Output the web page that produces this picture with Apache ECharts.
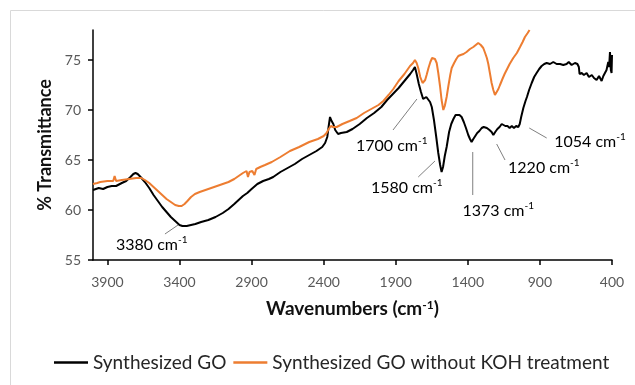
<!DOCTYPE html>
<html>
<head>
<meta charset="utf-8">
<script src="https://cdn.jsdelivr.net/npm/echarts@6/dist/echarts.min.js"></script>
<style>
html, body { margin: 0; padding: 0; background: #fff; }
#chart { width: 635px; height: 385px; }
</style>
</head>
<body>
<div id="chart"></div>
<script>
// Synthesized GO (black)
var goWn = [4000, 3960, 3930, 3900, 3870, 3840, 3800, 3770, 3740, 3720, 3705, 3690, 3670, 3640, 3610, 3580,
    3550, 3520, 3490, 3460, 3430, 3400, 3380, 3350, 3320, 3290, 3250, 3200, 3150, 3100, 3060, 3020, 2990,
    2960, 2930, 2900, 2860, 2820, 2780, 2750, 2700, 2650, 2600, 2550, 2500, 2450, 2410, 2390, 2375, 2365,
    2356, 2345, 2333, 2320, 2300, 2280, 2240, 2200, 2150, 2100, 2050, 2000, 1960, 1920, 1880, 1840, 1800,
    1780, 1767, 1755, 1740, 1725, 1710, 1700, 1688, 1676, 1662, 1650, 1635, 1620, 1605, 1592, 1582, 1572,
    1560, 1547, 1530, 1515, 1500, 1485, 1473, 1458, 1443, 1428, 1413, 1397, 1385, 1374, 1362, 1350, 1335,
    1320, 1304, 1290, 1281, 1268, 1250, 1235, 1223, 1210, 1195, 1180, 1165, 1154, 1140, 1125, 1110, 1095,
    1080, 1065, 1050, 1040, 1030, 1015, 1000, 990, 975, 957, 940, 923, 905, 888, 870, 853, 830, 807, 784,
    760, 738, 715, 700, 680, 657, 640, 630, 625, 610, 595, 576, 560, 540, 525, 507, 490, 472, 460, 449,
    438, 426, 420, 414, 408, 403, 400];
var goT = [62.0, 62.2, 62.1, 62.3, 62.4, 62.4, 62.7, 62.9, 63.3, 63.6, 63.7, 63.6, 63.3, 62.8, 62.2, 61.5,
    60.9, 60.3, 59.8, 59.3, 58.9, 58.5, 58.4, 58.4, 58.5, 58.6, 58.8, 59.0, 59.3, 59.7, 60.1, 60.6, 61.0,
    61.4, 61.7, 62.1, 62.6, 62.9, 63.1, 63.3, 63.8, 64.2, 64.6, 65.1, 65.5, 65.9, 66.3, 66.7, 67.3, 68.4,
    69.3, 68.9, 68.6, 68.0, 67.6, 67.7, 67.8, 68.1, 68.6, 69.2, 69.7, 70.3, 71.0, 71.6, 72.2, 72.9, 73.6,
    74.0, 74.3, 73.6, 72.6, 71.8, 71.1, 70.9, 71.3, 71.3, 70.8, 70.3, 69.0, 67.4, 65.7, 64.5, 63.8, 64.3,
    65.4, 66.3, 67.8, 68.6, 69.1, 69.5, 69.6, 69.5, 69.3, 68.8, 68.2, 67.5, 67.1, 66.8, 67.1, 67.3, 67.7,
    67.9, 68.2, 68.3, 68.4, 68.2, 68.0, 67.8, 67.5, 67.8, 68.1, 68.3, 68.6, 68.7, 68.4, 68.4, 68.2, 68.4,
    68.2, 68.4, 68.3, 68.6, 69.3, 70.2, 70.9, 71.3, 72.0, 72.7, 73.3, 73.7, 74.1, 74.4, 74.6, 74.7, 74.6,
    74.8, 74.6, 74.6, 74.5, 74.6, 74.8, 74.5, 74.7, 74.6, 74.3, 73.6, 73.7, 73.5, 73.7, 73.3, 73.5, 73.2,
    73.0, 73.4, 72.9, 73.4, 73.3, 74.0, 74.8, 74.3, 75.8, 74.0, 73.7, 75.5];

// Synthesized GO without KOH treatment (orange)
var kohWn = [4000, 3970, 3950, 3900, 3860, 3850, 3840, 3800, 3750, 3700, 3665, 3640, 3610, 3580, 3550,
    3520, 3490, 3460, 3430, 3405, 3385, 3365, 3345, 3320, 3293, 3260, 3220, 3180, 3140, 3100, 3060, 3020,
    2990, 2960, 2935, 2925, 2915, 2895, 2880, 2868, 2840, 2807, 2760, 2700, 2634, 2570, 2500, 2440, 2400,
    2380, 2365, 2350, 2335, 2310, 2270, 2220, 2171, 2120, 2070, 2020, 1986, 1950, 1917, 1880, 1840, 1801,
    1780, 1767, 1755, 1744, 1730, 1714, 1705, 1696, 1686, 1673, 1660, 1648, 1640, 1628, 1616, 1605, 1593,
    1582, 1570, 1560, 1547, 1535, 1522, 1512, 1495, 1480, 1466, 1450, 1430, 1409, 1385, 1362, 1345, 1328,
    1310, 1293, 1280, 1268, 1258, 1247, 1235, 1223, 1212, 1200, 1188, 1177, 1160, 1145, 1131, 1110, 1085,
    1060, 1038, 1020, 1004, 985, 972];
var kohT = [62.6, 62.7, 62.8, 62.9, 62.9, 63.4, 62.9, 63.0, 63.1, 63.2, 63.2, 63.0, 62.7, 62.3, 61.9,
    61.5, 61.1, 60.8, 60.5, 60.4, 60.4, 60.6, 60.9, 61.3, 61.6, 61.8, 62.0, 62.2, 62.4, 62.6, 62.8, 63.1,
    63.4, 63.7, 63.9, 63.3, 63.8, 63.9, 63.5, 64.1, 64.3, 64.5, 64.8, 65.3, 65.9, 66.3, 66.8, 67.1, 67.4,
    67.7, 68.1, 68.4, 68.3, 68.3, 68.6, 68.9, 69.2, 69.7, 70.1, 70.5, 70.9, 71.5, 72.1, 72.9, 73.6, 74.4,
    74.7, 75.0, 74.7, 74.2, 73.3, 72.7, 72.6, 73.0, 73.5, 74.2, 74.8, 75.2, 75.3, 75.1, 74.7, 73.7, 72.4,
    71.0, 70.0, 70.4, 71.3, 72.4, 73.5, 74.2, 74.7, 75.1, 75.4, 75.5, 75.6, 75.8, 76.1, 76.3, 76.5, 76.7,
    76.5, 76.2, 75.7, 75.2, 74.6, 73.7, 72.7, 72.0, 71.5, 71.7, 72.1, 72.5, 73.1, 73.6, 74.0, 74.6, 75.2,
    75.7, 76.3, 76.8, 77.3, 77.7, 78.0];

var xTicks = [3900, 3400, 2900, 2400, 1900, 1400, 900, 400];
var yTicks = [55, 60, 65, 70, 75];

// peak annotations: label, label centre and leader ends in [wavenumber, %T]
var peakNames = ['3380', '1700', '1580', '1373', '1220', '1054'];
var peakText = [[3593, 56.5], [1928, 66.4], [1824, 62.2], [1189, 59.9], [873, 64.2], [553, 66.8]];
var peakLine = [
    [[3501, 57.6], [3410, 58.5]],
    [[1919, 68.0], [1753, 71.1]],
    [[1744, 63.3], [1628, 64.9]],
    [[1366, 65.8], [1366, 61.5]],
    [[1200, 66.6], [1142, 65.0]],
    [[974, 68.2], [853, 67.2]]
];

function pairs(xs, ys) {
    return xs.map(function (x, i) { return [x, ys[i]]; });
}

var font = 'Lato, "Open Sans", sans-serif';
var chart = echarts.init(document.getElementById('chart'));

chart.setOption({
    animation: false,
    grid: { left: 93, right: 23, top: 30, bottom: 125 },
    legend: {
        left: 49,
        top: 348,
        icon: 'rect',
        itemWidth: 34,
        itemHeight: 2.5,
        itemGap: 7,
        textStyle: { fontFamily: font, fontSize: 19, color: '#262626' },
        data: ['Synthesized GO', 'Synthesized GO without KOH treatment']
    },
    xAxis: {
        type: 'value',
        min: 400,
        max: 4000,
        inverse: true,
        name: 'Wavenumbers (cm{s|-1})',
        nameLocation: 'middle',
        nameGap: 39,
        nameTextStyle: {
            fontFamily: font, fontSize: 19, fontWeight: 'bold', color: '#111',
            rich: { s: { fontFamily: font, fontSize: 12, fontWeight: 'bold', color: '#111', verticalAlign: 'top' } }
        },
        splitLine: { show: false },
        axisLine: { lineStyle: { color: '#000', width: 1.5 } },
        axisTick: { length: 5, lineStyle: { color: '#000', width: 1.5 }, customValues: xTicks },
        axisLabel: {
            customValues: xTicks, margin: 15, fontFamily: font, fontSize: 14, color: '#595959',
            formatter: function (v) { return String(v); }
        }
    },
    yAxis: {
        type: 'value',
        min: 55,
        max: 78,
        name: '% Transmittance',
        nameLocation: 'middle',
        nameRotate: 90,
        nameGap: 37,
        nameTextStyle: { fontFamily: font, fontSize: 18, fontWeight: 'bold', color: '#111' },
        splitLine: { show: false },
        axisLine: { show: true, lineStyle: { color: '#000', width: 1.5 } },
        axisTick: { show: true, length: 5, lineStyle: { color: '#000', width: 1.5 }, customValues: yTicks },
        axisLabel: {
            customValues: yTicks, margin: 12, fontFamily: font, fontSize: 14, color: '#595959',
            formatter: function (v) { return String(v); }
        }
    },
    series: [{
        name: 'Synthesized GO',
        type: 'line',
        showSymbol: false,
        clip: false,
        color: '#000',
        lineStyle: { width: 2 },
        data: pairs(goWn, goT)
    }, {
        name: 'Synthesized GO without KOH treatment',
        type: 'line',
        showSymbol: false,
        clip: false,
        color: '#ED7D31',
        lineStyle: { width: 2 },
        data: pairs(kohWn, kohT)
    }]
});

// frame and peak labels, placed through the grid's own coordinate system
var graphics = [{
    type: 'rect',
    shape: { x: 10.5, y: 10.5, width: 800, height: 600 },
    style: { fill: 'none', stroke: '#d9d9d9', lineWidth: 1 },
    silent: true
}];
peakNames.forEach(function (name, i) {
    var a = chart.convertToPixel({ gridIndex: 0 }, peakLine[i][0]);
    var b = chart.convertToPixel({ gridIndex: 0 }, peakLine[i][1]);
    var c = chart.convertToPixel({ gridIndex: 0 }, peakText[i]);
    graphics.push({
        type: 'line',
        shape: { x1: a[0], y1: a[1], x2: b[0], y2: b[1] },
        style: { stroke: '#7f7f7f', lineWidth: 1 },
        silent: true
    });
    graphics.push({
        type: 'text',
        x: c[0],
        y: c[1],
        style: {
            text: '{n|' + name + ' cm}{s|-1}',
            align: 'center',
            verticalAlign: 'middle',
            rich: {
                n: { fontFamily: font, fontSize: 16, color: '#404040', lineHeight: 20 },
                s: { fontFamily: font, fontSize: 10, color: '#404040', verticalAlign: 'top' }
            }
        },
        silent: true
    });
});
chart.setOption({ graphic: graphics });
</script>
</body>
</html>
